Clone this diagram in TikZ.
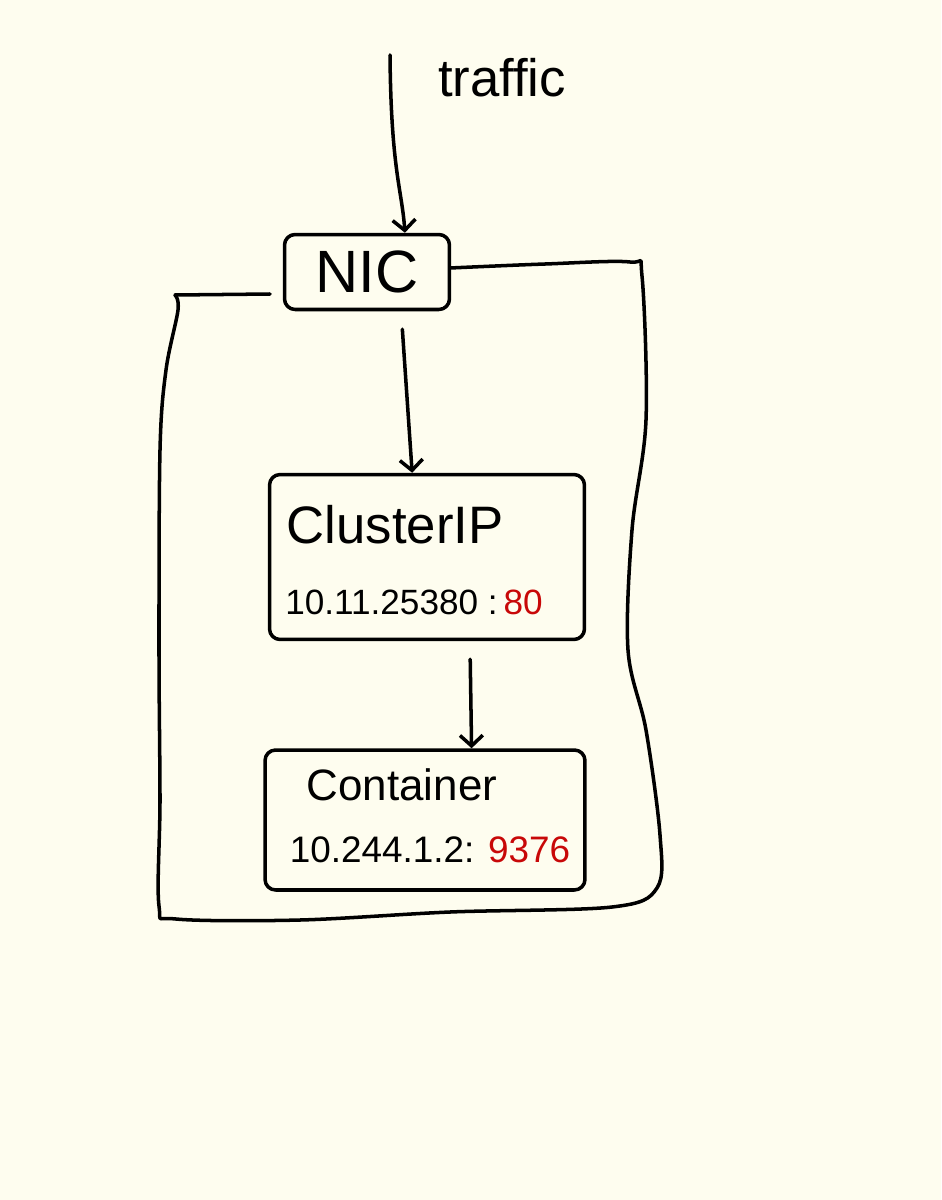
\documentclass[tikz,border=0pt]{standalone}
\usepackage{fontspec}
\setmainfont{Liberation Sans}
\usetikzlibrary{arrows.meta}
\definecolor{paper}{RGB}{254,253,239}
\definecolor{portred}{RGB}{200,8,8}

\begin{document}
\begin{tikzpicture}[x=0.02cm, y=-0.02cm, line width=2pt, line cap=round, line join=round,
        box/.style={draw, rounded corners=6pt, inner sep=0pt},
        flow/.style={-{Straight Barb[length=6pt,width=13pt]}}]
            \fill[paper] (0, 0) rectangle (941, 1200);
            \useasboundingbox (0, 0) rectangle (941, 1200);

            % host boundary
            \draw (270, 294) -- (175, 295);
            \draw plot[smooth, tension=0.55] coordinates {(450, 268) (545, 264) (630, 262) (642, 276) (646, 420) (632, 530) (628, 650) (646, 730) (660, 835) (657, 888) (612, 907) (450, 912) (300, 920) (176, 919) (159, 906) (160, 800) (159, 650) (160, 450) (166, 370) (178, 310) (175, 295)};

            % boxes
            \node[box, minimum width=3.3cm, minimum height=1.5cm] (nic) at (367, 272) { \fontsize{34}{40}\selectfont NIC };
            \node[box, minimum width=6.3cm, minimum height=3.3cm] (cip) at (427, 557) {};
            \node[box, minimum width=6.4cm, minimum height=2.8cm] (ctr) at (425, 820) {};

            \node (cipname) at (395, 525) { \fontsize{30}{36}\selectfont ClusterIP };
            \node (cipaddr) at (414, 602) { \fontsize{20}{24}\selectfont 10.11.25380 :\,\textcolor{portred}{80} };
            \node (ctrname) at (402, 785) { \fontsize{25}{30}\selectfont Container };
            \node (ctraddr) at (430, 850) { \fontsize{21}{25}\selectfont 10.244.1.2: \textcolor{portred}{9376} };

            % traffic
            \coordinate (src) at (390, 55);
            \node (traffic) at (502, 78) { \fontsize{30}{36}\selectfont traffic };

            \draw[flow] (src) .. controls (391, 170) and (402, 190) .. (nic.46);
            \draw[flow, shorten <=0.36cm] (nic.-49) -- (cip.100);
            \draw[flow, shorten <=0.36cm] (cip.-63) -- (ctr.57);
        \end{tikzpicture}
\end{document}
